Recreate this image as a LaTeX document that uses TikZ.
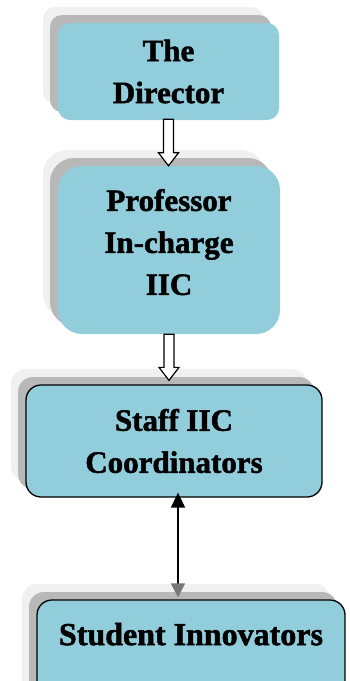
\documentclass[tikz,border=0pt]{standalone}
\usepackage{fontspec}
\setmainfont{Liberation Serif}[BoldFeatures={FakeBold=1.6}]
\usetikzlibrary{shadows,calc,arrows.meta}
\definecolor{boxblue}{HTML}{92CDDC}
\definecolor{shadowmid}{HTML}{B8B8B8}
\definecolor{shadowlight}{HTML}{F0F0F0}
\definecolor{tipgray}{HTML}{777777}
\tikzset{
  orgbox/.style={fill=boxblue, align=center, inner sep=0pt,
    font=\fontsize{31}{42}\selectfont\bfseries,
    general shadow={fill=shadowlight, shadow xshift=-15pt, shadow yshift=16pt},
    general shadow={fill=shadowmid, shadow xshift=-8pt, shadow yshift=8pt}},
  framed/.style={draw=black, line width=1.3pt},
  hollowarrow/.style={draw=black, fill=white, line width=1.2pt, line join=miter},
  linkline/.style={draw=black, line width=1.6pt,
    {Triangle[length=15pt,width=14pt]}-{Triangle[length=14pt,width=14pt,color=tipgray]}}
}
\begin{document}
\begin{tikzpicture}[x=1pt,y=-1pt]
\useasboundingbox (0,0) rectangle (349,681);
\node[orgbox, rounded corners=12pt, minimum width=221pt, minimum height=97pt] (dir) at (168.5,71.5) {The\\Director};
\node[orgbox, rounded corners=24pt, minimum width=222pt, minimum height=168pt] (pic) at (169,250) {Professor\\In-charge\\IIC\\[-26pt]\mbox{}};
\node[orgbox, framed, rounded corners=15pt, minimum width=296pt, minimum height=112pt] (sc) at (174,441) {Staff IIC\\Coordinators};
\node[orgbox, framed, rounded corners=15pt, minimum width=308pt, minimum height=110pt] (si) at (191,655) {\fontsize{32}{42}\selectfont Student Innovators\\\mbox{}};
% hollow block arrows
\draw[hollowarrow] let \p1=(dir.south), \p2=(pic.north) in
  (\x1-5pt,\y1+1pt) -- (\x1-5pt,\y2+13pt) -- (\x1-10pt,\y2+13pt) -- (\x1,\y2) --
  (\x1+10pt,\y2+13pt) -- (\x1+5pt,\y2+13pt) -- (\x1+5pt,\y1+1pt) -- cycle;
\draw[hollowarrow] let \p1=(pic.south), \p2=(sc.north) in
  (\x1-5pt,\y1) -- (\x1-5pt,\y2+17pt) -- (\x1-10pt,\y2+17pt) -- (\x1,\y2+4pt) --
  (\x1+10pt,\y2+17pt) -- (\x1+5pt,\y2+17pt) -- (\x1+5pt,\y1) -- cycle;
% two-way link
\coordinate (a1) at ($(sc.south)+(4,-5)$);
\coordinate (a2) at ($(si.north)+(-13,-2)$);
\draw[linkline] (a1) -- (a2);
\end{tikzpicture}
\end{document}
